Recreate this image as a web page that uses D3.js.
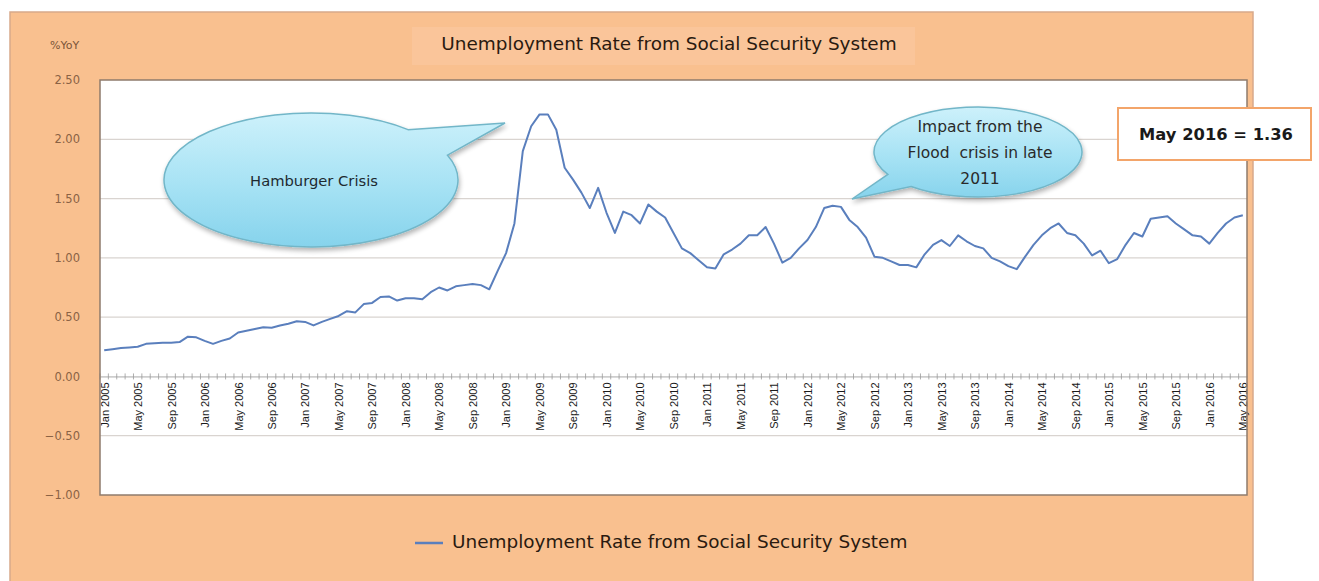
<!DOCTYPE html>
<html><head><meta charset="utf-8">
<script src="https://cdn.jsdelivr.net/npm/d3@7"></script>
<style>html,body{margin:0;padding:0;background:#fff;}svg{display:block;}text{white-space:pre;}</style>
</head><body>
<script>
const monthNames = ["Jan","Feb","Mar","Apr","May","Jun","Jul","Aug","Sep","Oct","Nov","Dec"];
const years = [2005,2006,2007,2008,2009,2010,2011,2012,2013,2014,2015,2016];
const yTicks = [-1.0,-0.5,0.0,0.5,1.0,1.5,2.0,2.5];
const seriesName = "Unemployment Rate from Social Security System";
const values = [
0.22,0.23,0.24,0.245,0.25,0.275,0.28,0.285,0.285,0.29,0.335,0.33,
0.30,0.275,0.30,0.32,0.37,0.385,0.40,0.415,0.41,0.43,0.445,0.465,
0.46,0.43,0.46,0.485,0.51,0.55,0.54,0.61,0.62,0.67,0.675,0.64,
0.66,0.66,0.65,0.71,0.75,0.725,0.76,0.77,0.78,0.77,0.735,0.89,
1.04,1.29,1.90,2.11,2.21,2.21,2.08,1.76,1.66,1.55,1.42,1.59,
1.38,1.21,1.39,1.36,1.29,1.45,1.39,1.34,1.21,1.08,1.04,0.98,
0.92,0.91,1.03,1.07,1.12,1.19,1.19,1.26,1.12,0.96,1.00,1.08,
1.15,1.26,1.42,1.44,1.43,1.32,1.26,1.17,1.01,1.00,0.97,0.94,
0.94,0.92,1.03,1.11,1.15,1.10,1.19,1.14,1.10,1.08,1.00,0.97,
0.93,0.905,1.01,1.11,1.19,1.25,1.29,1.21,1.19,1.12,1.02,1.06,
0.955,0.99,1.11,1.21,1.18,1.33,1.34,1.35,1.29,1.24,1.19,1.18,
1.12,1.21,1.29,1.34,1.36
];
const categories = [];
years.forEach(y => monthNames.forEach(m => categories.push(m + " " + y)));
categories.length = values.length;
const data = categories.map((c,i)=>({c, v: values[i]}));
const tickLabels = categories.filter((c,i)=> i % 4 === 0);
const calloutMain = "Hamburger Crisis";
const calloutFlood = ["Impact from the", "Flood  crisis in late", "2011"];
const latestLabel = "May 2016 = 1.36";

const W = 1319, H = 581;
const svg = d3.select("body").append("svg").attr("width", W).attr("height", H);
const defs = svg.append("defs");
const grad = defs.append("linearGradient").attr("id","bub").attr("x1",0).attr("y1",0).attr("x2",0).attr("y2",1);
grad.append("stop").attr("offset","0%").attr("stop-color","#cdf1fb");
grad.append("stop").attr("offset","55%").attr("stop-color","#a6e2f4");
grad.append("stop").attr("offset","100%").attr("stop-color","#86d3ec");
const blur = defs.append("filter").attr("id","sh").attr("x","-20%").attr("y","-20%").attr("width","140%").attr("height","150%");
blur.append("feGaussianBlur").attr("in","SourceAlpha").attr("stdDeviation",2.5);
blur.append("feOffset").attr("dx",1).attr("dy",3).attr("result","ob");
blur.append("feComponentTransfer").append("feFuncA").attr("type","linear").attr("slope",0.3);
const mg = blur.append("feMerge"); mg.append("feMergeNode"); mg.append("feMergeNode").attr("in","SourceGraphic");

// Outer panel
svg.append("rect").attr("x",10).attr("y",12).attr("width",1243).attr("height",575)
  .attr("fill","#f9c08f").attr("stroke","#d8a98a").attr("stroke-width",1.5);
// title box
svg.append("rect").attr("x",412).attr("y",27).attr("width",503).attr("height",38).attr("fill","#fac59a");

const font = "'DejaVu Sans', Verdana, sans-serif";
function fitText(sel, target){
  const n = sel.node(); let fs = parseFloat(sel.attr("font-size"));
  const w = n.getComputedTextLength();
  if (w>0) sel.attr("font-size", (fs*target/w).toFixed(2));
}
const title = svg.append("text").attr("x",669).attr("y",50).attr("text-anchor","middle")
  .attr("font-family",font).attr("font-size",14).attr("fill","#2a1a10").text(seriesName);
fitText(title, 456);

svg.append("text").attr("x",50).attr("y",49).attr("font-family",font).attr("font-size",11)
  .attr("fill","#7a5538").text("%YoY");

const x0 = 100, x1 = 1247, yTop = 80, yBot = 495;
const x = d3.scalePoint().domain(categories).range([x0,x1]).padding(0.5);
const y = d3.scaleLinear().domain([-1,2.5]).range([yBot,yTop]);

// plot area
svg.append("rect").attr("x",x0).attr("y",yTop).attr("width",x1-x0).attr("height",yBot-yTop).attr("fill","#ffffff");

// gridlines
svg.append("g").selectAll("line").data(yTicks.filter(t=>t!==0 && t!==-1 && t!==2.5)).join("line")
  .attr("x1",x0).attr("x2",x1).attr("y1",d=>y(d)).attr("y2",d=>y(d))
  .attr("stroke","#d9d4d0").attr("stroke-width",1.2);

// y axis labels
const yAxis = d3.axisLeft(y).tickValues(yTicks).tickFormat(d3.format(".2f")).tickSize(0).tickPadding(20);
const ya = svg.append("g").attr("transform",`translate(${x0},0)`).call(yAxis);
ya.select(".domain").remove();
ya.selectAll("text").attr("font-family",font).attr("font-size",11.5).attr("fill","#8a6244");

// x axis at zero
const xAxis = d3.axisBottom(x).tickValues(tickLabels).tickSize(0).tickPadding(6);
const xa = svg.append("g").attr("transform",`translate(0,${y(0)})`).call(xAxis);
xa.select(".domain").attr("stroke","#a9a9a9").attr("stroke-width",1);
xa.selectAll("text").attr("font-family","'Liberation Sans', Arial, sans-serif").attr("font-size",11)
  .attr("fill","#1a1a1a").attr("text-anchor","end").attr("dy","0.35em")
  .attr("transform","rotate(-90)").attr("x",-6).attr("y",0);
// month minor ticks
svg.append("g").selectAll("line").data(categories).join("line")
  .attr("x1",d=>x(d)-x.step()/2).attr("x2",d=>x(d)-x.step()/2)
  .attr("y1",y(0)-3).attr("y2",y(0)+3).attr("stroke","#9a9a9a").attr("stroke-width",0.8);

// plot border
svg.append("rect").attr("x",x0).attr("y",yTop).attr("width",x1-x0).attr("height",yBot-yTop)
  .attr("fill","none").attr("stroke","#8f7b6c").attr("stroke-width",1.5);

// line
const lineGen = d3.line().x(d=>x(d.c)).y(d=>y(d.v));
svg.append("path").datum(data).attr("d",lineGen).attr("fill","none")
  .attr("stroke","#5a7fbd").attr("stroke-width",2).attr("stroke-linejoin","round");

// callouts: ellipse with a tail; arc drawn clockwise from a2 around to a1
function bubble(cx, cy, rx, ry, tail){
  const g = svg.append("g").attr("filter","url(#sh)");
  const p1 = [cx+rx*Math.cos(tail.a1), cy+ry*Math.sin(tail.a1)];
  const p2 = [cx+rx*Math.cos(tail.a2), cy+ry*Math.sin(tail.a2)];
  const d = `M${p2[0]},${p2[1]} A${rx},${ry} 0 1,1 ${p1[0]},${p1[1]} L${tail.tip[0]},${tail.tip[1]} Z`;
  g.append("path").attr("d",d).attr("fill","url(#bub)").attr("stroke","#72b6c8").attr("stroke-width",1.5);
  return g;
}
bubble(311,180,147,67,{a1:-0.85, a2:-0.38, tip:[505,123]});
const hc = svg.append("text").attr("x",314).attr("y",186).attr("text-anchor","middle").attr("font-family",font)
  .attr("font-size",12).attr("fill","#1e2a30").text(calloutMain);
fitText(hc, 128);

bubble(978,152,104,45,{a1:2.27, a2:2.62, tip:[852,199]});
const fl = calloutFlood.map((t,i)=> svg.append("text").attr("x",980).attr("y",132+i*26).attr("text-anchor","middle")
    .attr("font-family",font).attr("font-size",12).attr("fill","#2a2a2a").text(t));
fitText(fl[1], 145);
fl.forEach(s=>s.attr("font-size", fl[1].attr("font-size")));

// latest box
svg.append("rect").attr("x",1118).attr("y",108).attr("width",193).attr("height",52)
  .attr("fill","#ffffff").attr("stroke","#f3a56a").attr("stroke-width",2);
const lb = svg.append("text").attr("x",1216).attr("y",140).attr("text-anchor","middle").attr("font-family",font)
  .attr("font-size",13).attr("font-weight","bold").attr("fill","#1a1a1a").text(latestLabel);
fitText(lb, 154);

// legend
svg.append("line").attr("x1",415).attr("x2",443).attr("y1",543).attr("y2",543)
  .attr("stroke","#5a7fbd").attr("stroke-width",2.5);
const lt = svg.append("text").attr("x",452).attr("y",548).attr("font-family",font).attr("font-size",15)
  .attr("fill","#2a1a10").text(seriesName);
fitText(lt, 456);
</script>
</body></html>
